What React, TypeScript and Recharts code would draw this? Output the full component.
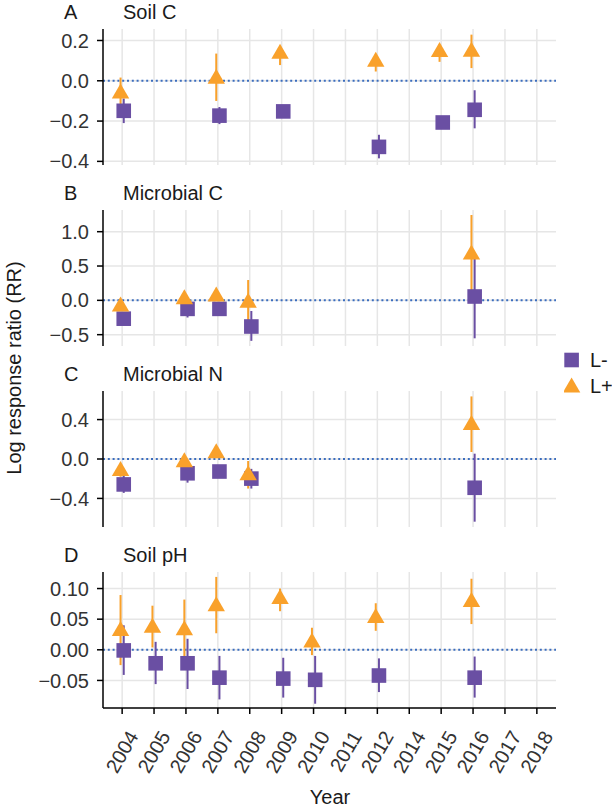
import { ScatterChart, Scatter, XAxis, YAxis, CartesianGrid, ReferenceLine, ErrorBar } from 'recharts'

const YEARS = ['2004', '2005', '2006', '2007', '2008', '2009', '2010', '2011', '2012', '2014', '2015', '2016', '2017', '2018']

// A: Soil C
const SOILC_YEARS = ['2004', '2007', '2009', '2012', '2015', '2016']
const SOILC_LM = [-0.149, -0.173, -0.152, -0.328, -0.207, -0.144]
const SOILC_LM_LO = [-0.21, -0.215, -0.17, -0.385, -0.225, -0.236]
const SOILC_LM_HI = [-0.088, -0.13, -0.135, -0.268, -0.19, -0.047]
const SOILC_LP = [-0.063, 0.01, 0.134, 0.095, 0.143, 0.144]
const SOILC_LP_LO = [-0.12, -0.1, 0.078, 0.046, 0.094, 0.063]
const SOILC_LP_HI = [0.016, 0.135, 0.17, 0.13, 0.18, 0.229]

// B: Microbial C
const MICC_YEARS = ['2004', '2006', '2007', '2008', '2016']
const MICC_LM = [-0.267, -0.124, -0.124, -0.381, 0.056]
const MICC_LM_LO = [-0.31, -0.25, -0.17, -0.59, -0.553]
const MICC_LM_HI = [-0.22, -0.02, -0.08, -0.155, 0.61]
const MICC_LP = [-0.09, 0.015, 0.056, -0.036, 0.666]
const MICC_LP_LO = [-0.13, -0.03, 0.01, -0.33, 0.15]
const MICC_LP_HI = [-0.05, 0.06, 0.1, 0.296, 1.243]

// C: Microbial N
const MICN_YEARS = ['2004', '2006', '2007', '2008', '2016']
const MICN_LM = [-0.258, -0.145, -0.127, -0.199, -0.292]
const MICN_LM_LO = [-0.344, -0.24, -0.16, -0.3, -0.636]
const MICN_LM_HI = [-0.17, -0.05, -0.09, -0.1, 0.054]
const MICN_LP = [-0.122, -0.034, 0.059, -0.164, 0.346]
const MICN_LP_LO = [-0.18, -0.07, 0.03, -0.3, 0.071]
const MICN_LP_HI = [-0.06, 0.01, 0.09, -0.02, 0.635]

// D: Soil pH
const PH_YEARS = ['2004', '2005', '2006', '2007', '2009', '2010', '2012', '2016']
const PH_LM = [-0.001, -0.022, -0.022, -0.0455, -0.047, -0.049, -0.042, -0.0455]
const PH_LM_LO = [-0.041, -0.056, -0.064, -0.081, -0.078, -0.088, -0.069, -0.078]
const PH_LM_HI = [0.04, 0.013, 0.018, -0.01, -0.013, -0.01, -0.014, -0.011]
const PH_LP = [0.0306, 0.036, 0.032, 0.071, 0.083, 0.012, 0.052, 0.078]
const PH_LP_LO = [-0.025, 0.0038, -0.011, 0.027, 0.063, -0.0087, 0.031, 0.042]
const PH_LP_HI = [0.0894, 0.072, 0.082, 0.119, 0.1, 0.036, 0.076, 0.116]

const PURPLE = '#6a4fa3'
const ORANGE = '#f9a12b'
const FONT = '"Liberation Sans", Arial, sans-serif'
const TEXT = '#1a1a1a'
const FS = 20
const X_DOMAIN: [number, number] = [-0.6, 13.6]

function pts(years: string[], mean: number[], lo: number[], hi: number[], dodge: number) {
  return years.map((yr, i) => ({
    x: YEARS.indexOf(yr) + dodge,
    y: mean[i],
    err: [mean[i] - lo[i], hi[i] - mean[i]],
  }))
}

const fmt = (d: number) => (v: number) => {
  const s = Math.abs(v).toFixed(d)
  return v < -1e-9 ? '\u2212' + s : s
}

const Square = (p: any) => <rect x={p.cx - 7.3} y={p.cy - 7.3} width={14.6} height={14.6} fill={PURPLE} />
const Triangle = (p: any) => (
  <polygon points={`${p.cx},${p.cy - 10} ${p.cx + 8.7},${p.cy + 5} ${p.cx - 8.7},${p.cy + 5}`} fill={ORANGE} />
)
const Nothing = () => <g />

const YearTick = (p: any) => {
  const x = p.x + 17
  const y = p.y + 20
  return (
    <text x={x} y={y} textAnchor="end" transform={`rotate(-60, ${x}, ${y})`} fontSize={FS} fontFamily={FONT} fill="#333">
      {YEARS[p.payload.value]}
    </text>
  )
}

type PanelProps = {
  letter: string
  name: string
  top: number
  domain: [number, number]
  ticks: number[]
  digits: number
  lm: any[]
  lp: any[]
  bottom?: boolean
}

function Panel({ letter, name, top, domain, ticks, digits, lm, lp, bottom }: PanelProps) {
  const mb = bottom ? 0 : 14
  const h = 5 + 136 + (bottom ? 100 : mb)
  // grid only at the tick positions (no lines on the panel edges)
  const vGen = ({ xAxis, offset }: any) =>
    YEARS.map((_, i) =>
      xAxis && typeof xAxis.scale === 'function'
        ? xAxis.scale(i)
        : offset.left + ((i - X_DOMAIN[0]) / (X_DOMAIN[1] - X_DOMAIN[0])) * offset.width,
    )
  const hGen = ({ yAxis, offset }: any) =>
    ticks.map((t) =>
      yAxis && typeof yAxis.scale === 'function'
        ? yAxis.scale(t)
        : offset.top + ((domain[1] - t) / (domain[1] - domain[0])) * offset.height,
    )
  return (
    <div style={{ position: 'absolute', left: 0, top: top - 5 }}>
      <div style={{ position: 'absolute', left: 64, top: -23, fontSize: FS, fontFamily: FONT, color: TEXT, lineHeight: '22px' }}>{letter}</div>
      <div style={{ position: 'absolute', left: 123, top: -23, fontSize: FS, fontFamily: FONT, color: TEXT, lineHeight: '22px' }}>{name}</div>
      <ScatterChart width={612} height={h} margin={{ top: 5, right: 56, left: 0, bottom: mb }}>
        <CartesianGrid
          stroke="#e6e6e6"
          strokeWidth={1.5}
          verticalCoordinatesGenerator={vGen}
          horizontalCoordinatesGenerator={hGen}
        />
        <XAxis
          dataKey="x"
          type="number"
          domain={X_DOMAIN}
          ticks={YEARS.map((_, i) => i)}
          height={bottom ? 100 : 0}
          axisLine={bottom ? { stroke: '#000', strokeWidth: 1.5 } : false}
          tickLine={bottom ? { stroke: '#000', strokeWidth: 1.5 } : false}
          tickSize={6}
          tick={bottom ? YearTick : false}
          interval={0}
        />
        <YAxis
          dataKey="y"
          type="number"
          domain={domain}
          ticks={ticks}
          width={103}
          tickFormatter={fmt(digits)}
          axisLine={{ stroke: '#000', strokeWidth: 1.5 }}
          tickLine={{ stroke: '#000', strokeWidth: 1.5 }}
          tickSize={6}
          tickMargin={8}
          tick={{ fontSize: FS, fontFamily: FONT, fill: '#333' }}
          interval={0}
        />
        <ReferenceLine y={0} stroke="#3b6dbf" strokeWidth={2} strokeDasharray="2 2.8" />
        <Scatter data={lm} shape={Nothing} isAnimationActive={false}>
          <ErrorBar dataKey="err" direction="y" width={0} stroke={PURPLE} strokeWidth={2} isAnimationActive={false} />
        </Scatter>
        <Scatter data={lp} shape={Nothing} isAnimationActive={false}>
          <ErrorBar dataKey="err" direction="y" width={0} stroke={ORANGE} strokeWidth={2} isAnimationActive={false} />
        </Scatter>
        <Scatter data={lm} shape={Square} isAnimationActive={false} />
        <Scatter data={lp} shape={Triangle} isAnimationActive={false} />
      </ScatterChart>
    </div>
  )
}

export default function App() {
  return (
    <div style={{ position: 'absolute', left: 0, top: 0, width: 612, height: 809, background: '#fff', overflow: 'hidden' }}>
      <Panel
        letter="A" name="Soil C" top={29} domain={[-0.418, 0.257]} ticks={[-0.4, -0.2, 0, 0.2]} digits={1}
        lm={pts(SOILC_YEARS, SOILC_LM, SOILC_LM_LO, SOILC_LM_HI, 0.05)}
        lp={pts(SOILC_YEARS, SOILC_LP, SOILC_LP_LO, SOILC_LP_HI, -0.05)}
      />
      <Panel
        letter="B" name="Microbial C" top={210} domain={[-0.665, 1.316]} ticks={[-0.5, 0, 0.5, 1.0]} digits={1}
        lm={pts(MICC_YEARS, MICC_LM, MICC_LM_LO, MICC_LM_HI, 0.05)}
        lp={pts(MICC_YEARS, MICC_LP, MICC_LP_LO, MICC_LP_HI, -0.05)}
      />
      <Panel
        letter="C" name="Microbial N" top={391} domain={[-0.69, 0.69]} ticks={[-0.4, 0, 0.4]} digits={1}
        lm={pts(MICN_YEARS, MICN_LM, MICN_LM_LO, MICN_LM_HI, 0.05)}
        lp={pts(MICN_YEARS, MICN_LP, MICN_LP_LO, MICN_LP_HI, -0.05)}
      />
      <Panel
        letter="D" name="Soil pH" top={572} domain={[-0.095, 0.127]} ticks={[-0.05, 0, 0.05, 0.1]} digits={2}
        lm={pts(PH_YEARS, PH_LM, PH_LM_LO, PH_LM_HI, 0.05)}
        lp={pts(PH_YEARS, PH_LP, PH_LP_LO, PH_LP_HI, -0.05)}
        bottom
      />
      <div style={{
        position: 'absolute', left: 14, top: 368, transform: 'translate(-50%, -50%) rotate(-90deg)',
        whiteSpace: 'nowrap', fontSize: FS, fontFamily: FONT, color: TEXT,
      }}>
        Log response ratio (RR)
      </div>
      <div style={{ position: 'absolute', left: 330, top: 797, transform: 'translate(-50%, -50%)', fontSize: FS, fontFamily: FONT, color: TEXT }}>
        Year
      </div>
      <svg style={{ position: 'absolute', left: 564, top: 352 }} width={17} height={42}>
        <rect x={0.3} y={0.7} width={14.6} height={14.6} fill={PURPLE} />
        <polygon points="7.6,25.5 16.3,40.5 -1.1,40.5" fill={ORANGE} />
      </svg>
      <div style={{ position: 'absolute', left: 590, top: 349, fontSize: FS, fontFamily: FONT, color: TEXT, lineHeight: '22px' }}>L-</div>
      <div style={{ position: 'absolute', left: 590, top: 375, fontSize: FS, fontFamily: FONT, color: TEXT, lineHeight: '22px' }}>L+</div>
    </div>
  )
}
